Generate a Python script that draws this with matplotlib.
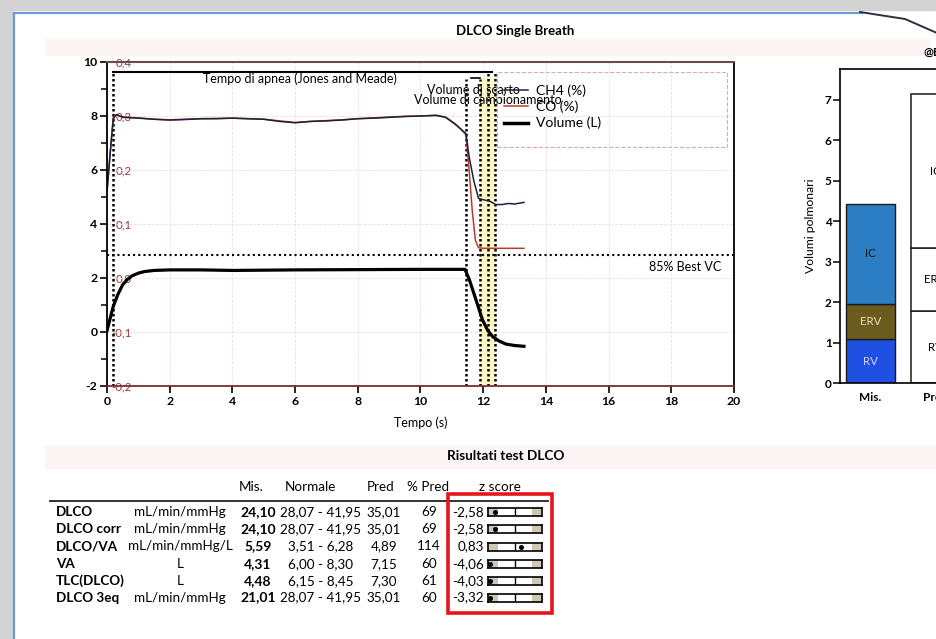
import matplotlib
matplotlib.use("Agg")
import matplotlib.pyplot as plt
from matplotlib.lines import Line2D
from matplotlib.patches import Rectangle
from matplotlib.ticker import FuncFormatter, MultipleLocator
import numpy as np

plt.rcParams["font.family"] = ["Lato", "DejaVu Sans"]
plt.rcParams["axes.unicode_minus"] = False

W, H = 937, 639

# --- DLCO single breath traces ---
t_gas = [0.0, 0.1, 0.2, 0.3, 0.5, 1.0, 1.5, 2.0, 2.5, 3.0, 3.5, 4.0, 4.5, 5.0, 5.5,
         6.0, 6.5, 7.0, 7.5, 8.0, 8.5, 9.0, 9.5, 10.0, 10.5, 10.8, 11.1, 11.3, 11.45,
         11.55, 11.7, 11.85, 12.0, 12.2, 12.4, 12.6, 12.8, 13.0, 13.3]
ch4 = [5.2, 6.6, 7.9, 8.05, 7.95, 7.92, 7.88, 7.85, 7.87, 7.9, 7.9, 7.92, 7.9, 7.88, 7.8,
       7.75, 7.8, 7.82, 7.85, 7.9, 7.92, 7.95, 7.98, 8.0, 8.02, 7.95, 7.7, 7.5, 7.35,
       6.5, 5.6, 4.95, 4.9, 4.85, 4.72, 4.72, 4.76, 4.74, 4.8]
t_co = [0.0, 0.1, 0.2, 0.3, 0.5, 1.0, 1.5, 2.0, 2.5, 3.0, 3.5, 4.0, 4.5, 5.0, 5.5,
        6.0, 6.5, 7.0, 7.5, 8.0, 8.5, 9.0, 9.5, 10.0, 10.5, 10.8, 11.1, 11.3, 11.45,
        11.55, 11.65, 11.75, 11.85, 12.0, 12.5, 13.0, 13.3]
co = [5.2, 6.6, 7.95, 8.05, 7.97, 7.93, 7.88, 7.86, 7.88, 7.9, 7.91, 7.92, 7.9, 7.88, 7.82,
      7.76, 7.8, 7.83, 7.86, 7.9, 7.93, 7.96, 7.99, 8.0, 8.03, 7.96, 7.72, 7.5, 7.3,
      6.0, 4.5, 3.4, 3.12, 3.1, 3.1, 3.1, 3.1]
t_vol = [0.0, 0.1, 0.2, 0.35, 0.5, 0.65, 0.8, 1.0, 1.2, 1.5, 2.0, 3.0, 4.0, 6.0, 8.0,
         10.0, 11.42, 11.56, 11.77, 11.98, 12.15, 12.3, 12.5, 12.73, 13.0, 13.3]
volume = [0.05, 0.5, 0.95, 1.4, 1.75, 1.95, 2.08, 2.18, 2.24, 2.28, 2.3, 2.3, 2.28, 2.3, 2.31,
          2.32, 2.32, 1.93, 1.19, 0.44, 0.05, -0.17, -0.33, -0.45, -0.5, -0.53]
best_vc_85 = 2.85
apnea_start, washout_start = 0.2, 11.45
sample_start, sample_mid, sample_end = 11.9, 12.15, 12.38

# --- lung volumes (L) ---
vol_labels = ["RV", "ERV", "IC"]
mis_vols = [1.09, 0.87, 2.47]
pred_vols = [1.79, 1.54, 3.81]

# --- DLCO results table ---
names = ["DLCO", "DLCO corr", "DLCO/VA", "VA", "TLC(DLCO)", "DLCO 3eq"]
units = ["mL/min/mmHg", "mL/min/mmHg", "mL/min/mmHg/L", "L", "L", "mL/min/mmHg"]
mis = ["24,10", "24,10", "5,59", "4,31", "4,48", "21,01"]
normale = ["28,07 - 41,95", "28,07 - 41,95", "3,51 - 6,28", "6,00 - 8,30",
           "6,15 - 8,45", "28,07 - 41,95"]
pred = ["35,01", "35,01", "4,89", "7,15", "7,30", "35,01"]
pct_pred = [69, 69, 114, 60, 61, 60]
z_scores = [-2.58, -2.58, 0.83, -4.06, -4.03, -3.32]


def fx(x):
    return x / W


def fy(y):
    return 1 - y / H


fig = plt.figure(figsize=(W / 100, H / 100), dpi=100)
fig.patch.set_facecolor("white")

# scan frame + faint smudges
fig.patches.append(Rectangle((0, fy(10)), 1, 10 / H, transform=fig.transFigure,
                             color="#d3d3d3", zorder=0))
fig.patches.append(Rectangle((0, 0), fx(12), 1, transform=fig.transFigure,
                             color="#d3d3d3", zorder=0))
fig.patches.append(Rectangle((fx(45), fy(55)), fx(885), 16 / H, transform=fig.transFigure,
                             color="#fdf4f4", zorder=0))
fig.patches.append(Rectangle((fx(45), fy(468)), fx(890), 22 / H, transform=fig.transFigure,
                             color="#fdf5f5", zorder=0))
fig.lines.append(Line2D([fx(14), fx(862)], [fy(13), fy(13)], transform=fig.transFigure,
                        color="#6f9ad8", lw=1.6))
fig.lines.append(Line2D([fx(14), fx(14)], [fy(13), 0], transform=fig.transFigure,
                        color="#6f9ad8", lw=1.6))
fig.lines.append(Line2D([fx(860), fx(905), fx(937)], [fy(12), fy(19), fy(33)],
                        transform=fig.transFigure, color="#2a3040", lw=1.4))

fig.text(fx(515), fy(31), "DLCO Single Breath", ha="center", va="center",
         fontsize=9.5, fontweight="bold")

# ---------- main trace plot ----------
ax = fig.add_axes([fx(107), fy(386), (734 - 107) / W, (386 - 62) / H])
ax.set_xlim(0, 20)
ax.set_ylim(-2, 10)
ax.grid(True, color="#efdede", linestyle="--", lw=0.6)
ax.set_axisbelow(True)

ax.axvspan(sample_start, sample_end, ymin=0, ymax=(9.4 + 2) / 12, color="#fcf5c6", lw=0)
dot = (0, (1, 1))
ax.vlines([apnea_start, sample_mid, sample_end], -2, 9.62, colors="k", lw=1.8, linestyles=dot)
ax.vlines([washout_start, sample_start], -2, 9.38, colors="k", lw=1.8, linestyles=dot)
ax.plot([apnea_start, sample_end - 0.1], [9.62, 9.62], color="k", lw=1.5)
ax.plot([washout_start + 0.15, sample_start], [9.42, 9.42], color="k", lw=1.2)
ax.axhline(best_vc_85, color="k", lw=1.5, linestyle=(0, (1, 1.5)))

ax.plot(t_co, co, color="#c0392b", lw=1.1, label="CO (%)")
ax.plot(t_gas, ch4, color="#1a2140", lw=1.1, label="CH4 (%)")
ax.plot(t_vol, volume, color="k", lw=2.3, label="Volume (L)")

ax.text(6.15, 9.38, "Tempo di apnea (Jones and Meade)", ha="center", va="center", fontsize=9)
ax.text(11.7, 8.95, "Volume di scarto", ha="center", va="center", fontsize=9)
ax.text(12.15, 8.6, "Volume di campionamento", ha="center", va="center", fontsize=9)
ax.text(18.45, 2.42, "85% Best VC", ha="center", va="center", fontsize=9)

handles = [Line2D([], [], color="#1a2140", lw=1.1),
           Line2D([], [], color="#c0392b", lw=1.1),
           Line2D([], [], color="k", lw=2.5)]
ax.legend(handles, ["CH4 (%)", "CO (%)", "Volume (L)"], loc="upper left",
          bbox_to_anchor=(fx(504), fy(84)), bbox_transform=fig.transFigure,
          frameon=False, fontsize=10, handlelength=1.7, handletextpad=0.6,
          labelspacing=0.28, borderpad=0, borderaxespad=0)
fig.patches.append(Rectangle((fx(497), fy(147)), fx(230), 75 / H, transform=fig.transFigure,
                             fill=False, edgecolor="#dbaaaa", lw=0.8, linestyle="--"))

ax.set_xticks(range(0, 21, 2))
ax.set_yticks(range(-2, 11, 2))
ax.yaxis.set_minor_locator(MultipleLocator(1))
ax.tick_params(axis="both", which="major", length=5, width=1.2, labelsize=8.8, pad=2)
ax.tick_params(axis="y", which="minor", length=4, width=1.1)
for lab in ax.get_xticklabels() + ax.get_yticklabels():
    lab.set_fontweight("bold")
ax.set_xlabel("Tempo (s)", fontsize=9, labelpad=7)
for side in ("left", "right"):
    ax.spines[side].set_linewidth(1.3)
ax.spines["top"].set_color("#6b4b45")
ax.spines["top"].set_linewidth(1.5)
ax.spines["bottom"].set_color("#7a2e2e")
ax.spines["bottom"].set_linewidth(1.3)

sec = ax.secondary_yaxis("left", functions=(lambda v: (v - 2) / 20, lambda p: p * 20 + 2))
sec.set_yticks([-0.2, -0.1, 0.0, 0.1, 0.2, 0.3, 0.4])
sec.yaxis.set_major_formatter(FuncFormatter(lambda v, _: f"{round(v, 1) + 0:.1f}".replace(".", ",")))
sec.tick_params(direction="in", length=0, pad=-17.5, labelsize=8.3, labelcolor="#9a3535")
sec.spines["left"].set_visible(False)

# ---------- lung volume bars ----------
axb = fig.add_axes([fx(840), fy(383.3), 200 / W, 314.3 / H])
bar_colors = ["#1f50e2", "#6c5b1f", "#2b7dc4"]
text_colors = ["#c9d7ff", "#e6dcb8", "#111111"]
bw = 0.757
cum_m, cum_p = 0.0, 0.0
for j, lbl in enumerate(vol_labels):
    axb.bar(0, mis_vols[j], bottom=cum_m, width=bw, color=bar_colors[j],
            edgecolor="#1a1a1a", lw=1)
    axb.text(0, cum_m + mis_vols[j] / 2, lbl, ha="center", va="center",
             fontsize=8.3, color=text_colors[j])
    axb.bar(1, pred_vols[j], bottom=cum_p, width=bw, color="white",
            edgecolor="#1a1a1a", lw=1.1)
    axb.text(1, cum_p + pred_vols[j] / 2, lbl, ha="center", va="center", fontsize=8.3)
    cum_m += mis_vols[j]
    cum_p += pred_vols[j]
axb.set_xlim(-0.471, 2.62)
axb.set_ylim(0, 7.76)
axb.set_yticks(range(0, 8))
axb.set_xticks([0, 1])
axb.set_xticklabels(["Mis.", "Pred"])
axb.tick_params(axis="x", length=0, labelsize=8.5, pad=6)
axb.tick_params(axis="y", length=5, width=1.1, labelsize=8.5, pad=1)
for lab in axb.get_xticklabels() + axb.get_yticklabels():
    lab.set_fontweight("bold")
axb.set_ylabel("Volumi polmonari", fontsize=8.8, labelpad=6)
for side in ("left", "top", "bottom"):
    axb.spines[side].set_linewidth(1.2)
fig.text(fx(924), fy(52), "@BTPS", ha="left", va="center", fontsize=8.5, fontweight="bold")

# ---------- results table ----------
fig.text(fx(506), fy(456), "Risultati test DLCO", ha="center", va="center",
         fontsize=9.8, fontweight="bold")
hy = 487
fs = 9.7
fig.text(fx(251), fy(hy), "Mis.", ha="center", va="center", fontsize=fs)
fig.text(fx(310), fy(hy), "Normale", ha="center", va="center", fontsize=fs)
fig.text(fx(381), fy(hy), "Pred", ha="center", va="center", fontsize=fs)
fig.text(fx(428), fy(hy), "% Pred", ha="center", va="center", fontsize=fs)
fig.text(fx(500), fy(hy), "z score", ha="center", va="center", fontsize=fs)
fig.lines.append(Line2D([fx(50), fx(548)], [fy(501), fy(501)], transform=fig.transFigure,
                        color="#222222", lw=1.3))

row_y = [512, 529, 546.5, 564, 581, 597.5]
for i in range(len(names)):
    y = fy(row_y[i])
    fig.text(fx(56), y, names[i], ha="left", va="center", fontsize=fs, fontweight="bold")
    fig.text(fx(180), y, units[i], ha="center", va="center", fontsize=fs)
    fig.text(fx(258), y, mis[i], ha="center", va="center", fontsize=10, fontweight="bold")
    fig.text(fx(321), y, normale[i], ha="center", va="center", fontsize=fs)
    fig.text(fx(384), y, pred[i], ha="center", va="center", fontsize=fs)
    fig.text(fx(429), y, str(pct_pred[i]), ha="center", va="center", fontsize=fs)
    fig.text(fx(484), y, f"{z_scores[i]:.2f}".replace(".", ","), ha="right",
             va="center", fontsize=fs)

    axz = fig.add_axes([fx(488), fy(row_y[i] + 4), 54 / W, 8 / H])
    axz.set_xlim(-3.5, 3.5)
    axz.set_ylim(0, 1)
    axz.axvspan(-3.5, -2.2, color="#cfc8b3", lw=0)
    axz.axvspan(2.2, 3.5, color="#cfc8b3", lw=0)
    axz.axvline(0, color="k", lw=1)
    axz.plot(np.clip(z_scores[i], -3.3, 3.3), 0.5, "o", ms=2.6, color="k")
    axz.set_xticks([])
    axz.set_yticks([])
    for sp in axz.spines.values():
        sp.set_linewidth(1.2)

fig.patches.append(Rectangle((fx(448), fy(613)), fx(104), 119 / H, transform=fig.transFigure,
                             fill=False, edgecolor="#e5161b", lw=2.6, zorder=5))

fig.savefig("out.png", dpi=100)
